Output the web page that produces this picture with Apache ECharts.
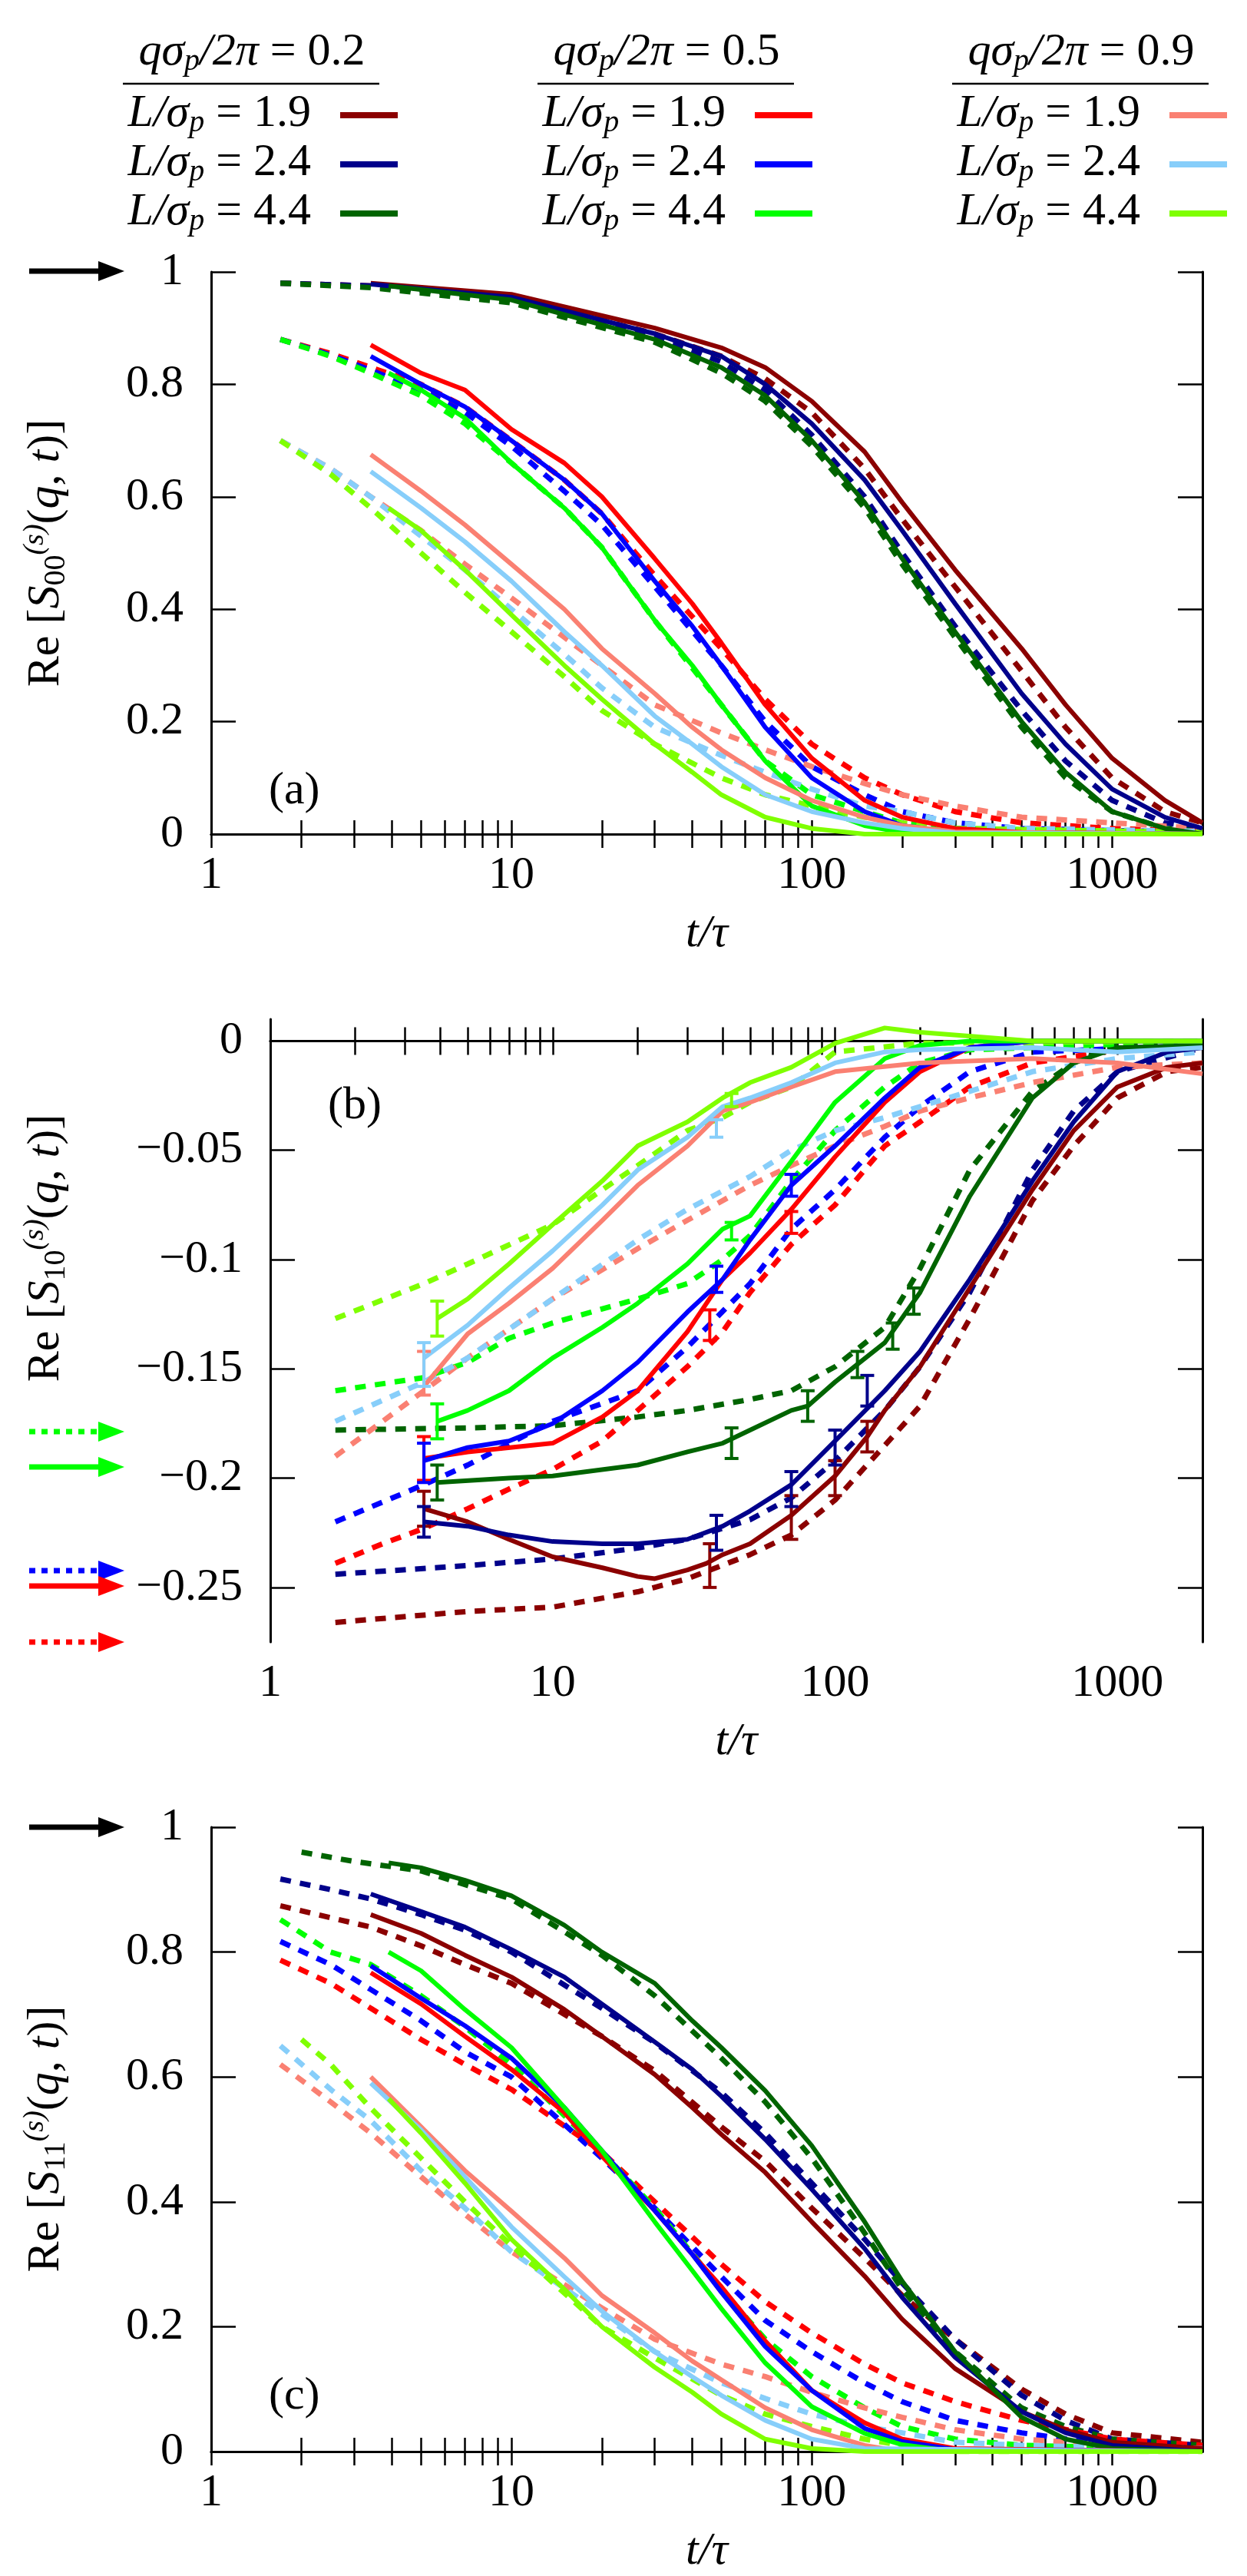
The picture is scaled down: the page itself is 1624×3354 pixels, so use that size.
<!DOCTYPE html>
<html><head><meta charset="utf-8">
<script src="https://cdn.jsdelivr.net/npm/echarts@6/dist/echarts.min.js"></script>
<style>html,body{margin:0;padding:0;background:#fff}#c{width:1624px;height:3354px}</style>
</head><body><div id="c"></div>
<script>
// ---- data: [t/tau, value] ----
const COLORS = ['#8b0000','#00008b','#006400','#ff0000','#0000ff','#00ff00','#fa8072','#87cefa','#7fff00'];
const Q_LABELS = ['0.2','0.5','0.9'];
const L_LABELS = ['1.9','2.4','4.4'];
const X_TICKS = [1,10,100,1000];
const Y_TICKS_A = [0,0.2,0.4,0.6,0.8,1];
const Y_TICKS_B = [-0.25,-0.2,-0.15,-0.1,-0.05,0];

// Panel (a) solid
const A_S0=[[3.4,0.98],[10,0.96],[30,0.9],[50,0.865],[70,0.83],[100,0.77],[150,0.68],[200,0.59],[300,0.47],[500,0.33],[700,0.23],[1000,0.135],[1500,0.06],[2000,0.02]];
const A_S1=[[3.4,0.978],[10,0.955],[30,0.89],[50,0.85],[70,0.8],[100,0.73],[150,0.63],[200,0.54],[300,0.41],[500,0.25],[700,0.16],[1000,0.08],[1500,0.03],[2000,0.01]];
const A_S2=[[3.9,0.975],[10,0.95],[30,0.88],[50,0.83],[70,0.78],[100,0.7],[150,0.59],[200,0.49],[300,0.36],[500,0.2],[700,0.11],[1000,0.04],[1500,0.01],[2000,0]];
const A_S3=[[3.4,0.87],[5,0.82],[7,0.79],[10,0.72],[15,0.66],[20,0.6],[30,0.49],[40,0.41],[50,0.34],[70,0.23],[100,0.135],[150,0.06],[200,0.03],[300,0.01],[500,0.003],[2000,0]];
const A_S4=[[3.4,0.85],[5,0.8],[7,0.76],[10,0.7],[15,0.63],[20,0.57],[30,0.45],[40,0.37],[50,0.3],[70,0.19],[100,0.1],[150,0.04],[200,0.015],[300,0.003],[2000,0]];
const A_S5=[[3.9,0.82],[5,0.79],[7,0.74],[10,0.66],[15,0.58],[20,0.51],[30,0.38],[40,0.3],[50,0.23],[70,0.13],[100,0.05],[150,0.015],[200,0.003],[2000,0]];
const A_S6=[[3.4,0.675],[5,0.61],[7,0.55],[10,0.48],[15,0.4],[20,0.33],[30,0.25],[40,0.19],[50,0.15],[70,0.1],[100,0.06],[150,0.03],[200,0.015],[300,0.004],[2000,0]];
const A_S7=[[3.4,0.645],[5,0.58],[7,0.52],[10,0.45],[15,0.36],[20,0.3],[30,0.21],[40,0.16],[50,0.12],[70,0.07],[100,0.04],[150,0.02],[200,0.01],[300,0.002],[2000,0]];
const A_S8=[[3.9,0.58],[5,0.54],[7,0.47],[10,0.39],[15,0.3],[20,0.24],[30,0.16],[40,0.11],[50,0.07],[70,0.03],[100,0.01],[150,0],[2000,0]];
// Panel (a) dashed
const A_D0=[[1.7,0.98],[3.4,0.975],[10,0.955],[30,0.89],[50,0.85],[70,0.81],[100,0.75],[150,0.65],[200,0.56],[300,0.44],[500,0.29],[700,0.19],[1000,0.1],[1500,0.04],[2000,0.02]];
const A_D1=[[1.7,0.98],[3.4,0.975],[10,0.952],[30,0.885],[50,0.84],[70,0.79],[100,0.71],[150,0.6],[200,0.5],[300,0.37],[500,0.22],[700,0.13],[1000,0.06],[1500,0.02],[2000,0.01]];
const A_D2=[[1.7,0.98],[3.4,0.972],[10,0.945],[30,0.875],[50,0.82],[70,0.77],[100,0.69],[150,0.58],[200,0.48],[300,0.35],[500,0.19],[700,0.1],[1000,0.04],[1500,0.01],[2000,0.005]];
const A_D3=[[1.7,0.88],[2.5,0.855],[3.4,0.83],[5,0.8],[7,0.76],[10,0.7],[15,0.63],[20,0.57],[30,0.46],[50,0.33],[70,0.24],[100,0.16],[150,0.1],[200,0.07],[300,0.04],[500,0.02],[1000,0.01],[2000,0.005]];
const A_D4=[[1.7,0.88],[2.5,0.852],[3.4,0.825],[5,0.79],[7,0.75],[10,0.69],[15,0.61],[20,0.55],[30,0.44],[50,0.3],[70,0.2],[100,0.12],[150,0.07],[200,0.04],[300,0.02],[500,0.01],[2000,0.003]];
const A_D5=[[1.7,0.88],[2.5,0.85],[3.4,0.82],[5,0.78],[7,0.73],[10,0.66],[15,0.58],[20,0.51],[30,0.38],[50,0.23],[70,0.13],[100,0.07],[150,0.04],[200,0.02],[300,0.01],[2000,0.002]];
const A_D6=[[1.7,0.7],[2.5,0.65],[3.4,0.6],[5,0.54],[7,0.48],[10,0.42],[15,0.35],[20,0.3],[30,0.23],[50,0.18],[70,0.15],[100,0.12],[150,0.09],[200,0.07],[300,0.05],[500,0.03],[1000,0.02],[2000,0.01]];
const A_D7=[[1.7,0.7],[2.5,0.65],[3.4,0.6],[5,0.53],[7,0.47],[10,0.4],[15,0.32],[20,0.26],[30,0.19],[50,0.14],[70,0.11],[100,0.08],[150,0.05],[200,0.04],[300,0.02],[500,0.01],[2000,0.005]];
const A_D8=[[1.7,0.7],[2.5,0.64],[3.4,0.58],[5,0.5],[7,0.43],[10,0.36],[15,0.28],[20,0.22],[30,0.16],[50,0.1],[70,0.07],[100,0.05],[150,0.03],[200,0.02],[300,0.01],[2000,0.003]];

// Panel (b) solid
const B_S0=[[3.5,-0.214],[5,-0.22],[7,-0.228],[10,-0.236],[15,-0.241],[20,-0.245],[23,-0.246],[30,-0.242],[35,-0.239],[40,-0.235],[50,-0.23],[70,-0.217],[100,-0.199],[130,-0.181],[150,-0.169],[200,-0.149],[300,-0.113],[500,-0.068],[700,-0.041],[1000,-0.021],[1500,-0.012],[2000,-0.01]];
const B_S1=[[3.5,-0.22],[5,-0.222],[7,-0.226],[10,-0.229],[15,-0.23],[20,-0.23],[30,-0.228],[40,-0.222],[50,-0.215],[70,-0.203],[100,-0.183],[150,-0.16],[200,-0.142],[300,-0.109],[500,-0.064],[700,-0.037],[1000,-0.014],[1500,-0.005],[2000,-0.003]];
const B_S2=[[3.9,-0.202],[7,-0.2],[10,-0.199],[20,-0.194],[30,-0.188],[40,-0.184],[50,-0.178],[70,-0.169],[80,-0.167],[100,-0.156],[150,-0.138],[200,-0.115],[300,-0.071],[500,-0.026],[700,-0.01],[1000,-0.003],[2000,-0.002]];
const B_S3=[[3.5,-0.191],[5,-0.188],[10,-0.184],[15,-0.172],[20,-0.16],[30,-0.133],[40,-0.109],[50,-0.097],[70,-0.077],[100,-0.053],[150,-0.028],[200,-0.014],[300,-0.003],[500,0],[2000,0]];
const B_S4=[[3.5,-0.192],[5,-0.186],[7,-0.183],[10,-0.175],[15,-0.16],[20,-0.147],[30,-0.124],[40,-0.109],[50,-0.091],[70,-0.066],[100,-0.048],[150,-0.026],[200,-0.012],[300,-0.003],[500,0],[2000,0]];
const B_S5=[[3.9,-0.174],[5,-0.169],[7,-0.16],[10,-0.145],[15,-0.131],[20,-0.12],[30,-0.102],[40,-0.086],[50,-0.08],[70,-0.055],[100,-0.028],[150,-0.008],[200,-0.002],[300,0],[2000,0]];
const B_S6=[[3.5,-0.158],[5,-0.134],[7,-0.12],[10,-0.104],[15,-0.082],[20,-0.066],[30,-0.048],[40,-0.032],[50,-0.028],[70,-0.021],[100,-0.014],[200,-0.01],[500,-0.008],[1000,-0.01],[2000,-0.015]];
const B_S7=[[3.5,-0.145],[5,-0.13],[7,-0.113],[10,-0.096],[15,-0.075],[20,-0.059],[30,-0.044],[40,-0.03],[50,-0.026],[70,-0.019],[100,-0.01],[150,-0.005],[200,-0.004],[500,-0.003],[1000,-0.005],[2000,-0.003]];
const B_S8=[[3.9,-0.127],[5,-0.118],[7,-0.102],[10,-0.084],[15,-0.064],[20,-0.048],[30,-0.037],[40,-0.026],[50,-0.019],[70,-0.012],[100,-0.001],[150,0.006],[200,0.004],[500,0],[2000,0]];
// Panel (b) dashed
const B_D0=[[1.7,-0.266],[5,-0.261],[10,-0.259],[20,-0.252],[30,-0.246],[50,-0.235],[70,-0.226],[100,-0.21],[150,-0.185],[200,-0.167],[300,-0.127],[500,-0.073],[700,-0.048],[1000,-0.026],[1500,-0.014],[2000,-0.012]];
const B_D1=[[1.7,-0.244],[5,-0.24],[10,-0.237],[20,-0.232],[30,-0.228],[50,-0.219],[70,-0.209],[100,-0.192],[150,-0.169],[200,-0.149],[300,-0.115],[500,-0.059],[700,-0.032],[1000,-0.014],[2000,-0.003]];
const B_D2=[[1.7,-0.178],[5,-0.177],[10,-0.176],[20,-0.172],[30,-0.169],[50,-0.164],[70,-0.16],[100,-0.149],[150,-0.131],[200,-0.104],[300,-0.059],[500,-0.023],[700,-0.01],[1000,-0.002],[2000,0]];
const B_D3=[[1.7,-0.239],[2.5,-0.23],[3.5,-0.223],[5,-0.214],[7,-0.205],[10,-0.196],[15,-0.183],[20,-0.169],[30,-0.149],[40,-0.133],[50,-0.115],[70,-0.093],[100,-0.075],[150,-0.048],[200,-0.037],[300,-0.021],[500,-0.01],[1000,-0.004],[2000,-0.002]];
const B_D4=[[1.7,-0.22],[3.5,-0.203],[5,-0.194],[10,-0.174],[20,-0.16],[30,-0.14],[50,-0.111],[70,-0.086],[100,-0.068],[150,-0.044],[200,-0.03],[300,-0.014],[500,-0.005],[2000,-0.002]];
const B_D5=[[1.7,-0.16],[3.5,-0.154],[5,-0.147],[7,-0.136],[10,-0.129],[20,-0.118],[30,-0.111],[40,-0.1],[50,-0.089],[70,-0.064],[100,-0.041],[150,-0.021],[200,-0.01],[300,-0.004],[2000,0]];
const B_D6=[[1.7,-0.19],[3.5,-0.16],[5,-0.145],[10,-0.118],[20,-0.095],[30,-0.082],[50,-0.066],[70,-0.057],[100,-0.048],[150,-0.039],[200,-0.032],[300,-0.026],[500,-0.019],[1000,-0.012],[2000,-0.01]];
const B_D7=[[1.7,-0.174],[3.5,-0.156],[5,-0.145],[10,-0.118],[20,-0.091],[30,-0.077],[50,-0.062],[70,-0.05],[100,-0.041],[150,-0.035],[200,-0.03],[300,-0.023],[500,-0.014],[1000,-0.008],[2000,-0.005]];
const B_D8=[[1.7,-0.127],[3.5,-0.111],[5,-0.102],[10,-0.084],[15,-0.068],[20,-0.057],[30,-0.041],[40,-0.035],[50,-0.028],[70,-0.021],[100,-0.005],[200,-0.001],[2000,0]];
// Panel (b) error bars [t, low, high] for the solid curves
const B_E0=[[3.5,-0.222,-0.206],[36,-0.25,-0.23],[70,-0.228,-0.208],[100,-0.208,-0.192],[130,-0.188,-0.174]];
const B_E1=[[3.5,-0.227,-0.213],[38,-0.233,-0.217],[70,-0.213,-0.197],[100,-0.194,-0.178],[130,-0.167,-0.153]];
const B_E2=[[3.9,-0.21,-0.194],[43,-0.191,-0.177],[80,-0.174,-0.16],[120,-0.154,-0.142],[160,-0.141,-0.129],[190,-0.125,-0.113]];
const B_E3=[[3.5,-0.201,-0.181],[36,-0.137,-0.123],[70,-0.088,-0.078]];
const B_E4=[[3.5,-0.202,-0.184],[38,-0.115,-0.103],[70,-0.071,-0.061]];
const B_E5=[[3.9,-0.182,-0.166],[43,-0.091,-0.083]];
const B_E6=[[3.5,-0.162,-0.142]];
const B_E7=[[3.5,-0.158,-0.138],[38,-0.044,-0.036]];
const B_E8=[[3.9,-0.135,-0.119],[43,-0.03,-0.024]];

// Panel (c) solid
const C_S0=[[3.4,0.86],[5,0.83],[7,0.795],[10,0.76],[15,0.708],[20,0.665],[30,0.604],[40,0.551],[50,0.508],[70,0.447],[100,0.368],[150,0.281],[200,0.212],[300,0.133],[500,0.064],[700,0.035],[1000,0.015],[2000,0.005]];
const C_S1=[[3.4,0.893],[5,0.865],[7,0.84],[10,0.804],[15,0.76],[20,0.717],[30,0.656],[40,0.612],[50,0.569],[70,0.5],[100,0.42],[150,0.325],[200,0.247],[300,0.151],[500,0.064],[700,0.03],[1000,0.01],[2000,0]];
const C_S2=[[3.9,0.943],[5,0.935],[7,0.915],[10,0.89],[15,0.843],[20,0.8],[30,0.75],[40,0.69],[50,0.647],[70,0.578],[100,0.49],[150,0.368],[200,0.273],[300,0.16],[500,0.055],[700,0.02],[1000,0.005],[2000,0]];
const C_S3=[[3.4,0.767],[5,0.717],[7,0.665],[10,0.612],[15,0.543],[20,0.473],[30,0.386],[40,0.316],[50,0.264],[70,0.177],[100,0.098],[150,0.046],[200,0.02],[300,0.005],[2000,0]];
const C_S4=[[3.4,0.778],[5,0.726],[7,0.682],[10,0.63],[15,0.551],[20,0.482],[30,0.386],[40,0.316],[50,0.255],[70,0.168],[100,0.098],[150,0.037],[200,0.016],[300,0.003],[2000,0]];
const C_S5=[[3.9,0.8],[5,0.77],[7,0.708],[10,0.647],[15,0.551],[20,0.482],[30,0.368],[40,0.29],[50,0.229],[70,0.142],[100,0.072],[150,0.029],[200,0.011],[300,0],[2000,0]];
const C_S6=[[3.4,0.6],[5,0.52],[7,0.45],[10,0.385],[15,0.31],[20,0.25],[30,0.19],[40,0.145],[50,0.115],[70,0.07],[100,0.035],[150,0.01],[200,0],[2000,0]];
const C_S7=[[3.4,0.59],[5,0.515],[7,0.44],[10,0.36],[15,0.28],[20,0.225],[30,0.16],[40,0.12],[50,0.09],[70,0.05],[100,0.02],[150,0.005],[2000,0]];
const C_S8=[[3.9,0.565],[5,0.51],[7,0.43],[10,0.34],[15,0.26],[20,0.2],[30,0.135],[40,0.095],[50,0.06],[70,0.02],[100,0.005],[150,0],[2000,0]];
// Panel (c) dashed
const C_D0=[[1.7,0.874],[2.5,0.855],[3.4,0.84],[5,0.81],[7,0.78],[10,0.75],[20,0.665],[30,0.61],[50,0.52],[70,0.465],[100,0.39],[150,0.31],[200,0.25],[300,0.18],[500,0.1],[700,0.06],[1000,0.03],[2000,0.015]];
const C_D1=[[1.7,0.917],[2.5,0.9],[3.4,0.885],[5,0.86],[7,0.835],[10,0.8],[20,0.71],[30,0.655],[50,0.575],[70,0.51],[100,0.43],[150,0.34],[200,0.27],[300,0.18],[500,0.09],[700,0.05],[1000,0.02],[2000,0.01]];
const C_D2=[[2,0.96],[3,0.945],[5,0.93],[10,0.885],[20,0.795],[30,0.73],[50,0.63],[70,0.56],[100,0.47],[150,0.35],[200,0.26],[300,0.16],[500,0.07],[700,0.04],[1000,0.02],[2000,0.01]];
const C_D3=[[1.7,0.787],[2.5,0.75],[3.4,0.71],[5,0.66],[7,0.62],[10,0.58],[20,0.48],[30,0.4],[50,0.3],[70,0.24],[100,0.19],[150,0.14],[200,0.11],[300,0.08],[500,0.05],[1000,0.02],[2000,0.01]];
const C_D4=[[1.7,0.817],[2.5,0.78],[3.4,0.74],[5,0.69],[7,0.64],[10,0.6],[20,0.47],[30,0.39],[50,0.28],[70,0.21],[100,0.16],[150,0.11],[200,0.08],[300,0.05],[500,0.03],[1000,0.01],[2000,0.005]];
const C_D5=[[1.7,0.852],[2.5,0.8],[3.4,0.78],[5,0.73],[7,0.68],[10,0.62],[20,0.48],[30,0.39],[50,0.26],[70,0.18],[100,0.12],[150,0.07],[200,0.04],[300,0.02],[500,0.01],[2000,0.003]];
const C_D6=[[1.7,0.62],[2.5,0.56],[3.4,0.51],[5,0.44],[7,0.38],[10,0.32],[20,0.23],[30,0.18],[50,0.14],[70,0.12],[100,0.095],[150,0.07],[200,0.055],[300,0.035],[500,0.02],[1000,0.01],[2000,0.005]];
const C_D7=[[1.7,0.65],[2.5,0.58],[3.4,0.53],[5,0.45],[7,0.39],[10,0.32],[20,0.22],[30,0.16],[50,0.11],[70,0.085],[100,0.06],[150,0.04],[200,0.03],[300,0.015],[500,0.01],[2000,0.003]];
const C_D8=[[2,0.66],[2.5,0.62],[3.4,0.55],[5,0.47],[7,0.4],[10,0.33],[20,0.2],[30,0.15],[50,0.09],[70,0.06],[100,0.04],[150,0.02],[200,0.01],[300,0],[2000,0]];

const A_SOLID=[A_S0,A_S1,A_S2,A_S3,A_S4,A_S5,A_S6,A_S7,A_S8];
const A_DASH=[A_D0,A_D1,A_D2,A_D3,A_D4,A_D5,A_D6,A_D7,A_D8];
const B_SOLID=[B_S0,B_S1,B_S2,B_S3,B_S4,B_S5,B_S6,B_S7,B_S8];
const B_DASH=[B_D0,B_D1,B_D2,B_D3,B_D4,B_D5,B_D6,B_D7,B_D8];
const B_ERR=[B_E0,B_E1,B_E2,B_E3,B_E4,B_E5,B_E6,B_E7,B_E8];
const C_SOLID=[C_S0,C_S1,C_S2,C_S3,C_S4,C_S5,C_S6,C_S7,C_S8];
const C_DASH=[C_D0,C_D1,C_D2,C_D3,C_D4,C_D5,C_D6,C_D7,C_D8];

// ---- layout ----
const FONT='Liberation Serif';
const FS=60;
const panels=[
 {left:275,top:354,h:732,ymin:0,ymax:1,yt:Y_TICKS_A,solid:A_SOLID,dash:A_DASH,sub:'00',lab:'(a)',labY:1000,titleY:720},
 {left:352,top:1327,h:811,ymin:-0.275,ymax:0.01,yt:Y_TICKS_B,solid:B_SOLID,dash:B_DASH,err:B_ERR,sub:'10',lab:'(b)',labY:1410,titleY:1625},
 {left:275,top:2379,h:813,ymin:0,ymax:1,yt:Y_TICKS_A,solid:C_SOLID,dash:C_DASH,sub:'11',lab:'(c)',labY:3090,titleY:2785}
];
const MINOR=[];
[1,10,100,1000].forEach(d=>{for(let k=2;k<=9;k++){if(d*k<2000)MINOR.push(d*k);}});
const ALL_X=X_TICKS.concat(MINOR);

const grid=[],xAxis=[],yAxis=[],series=[],graphic=[];
const axLine={show:true,lineStyle:{color:'#000',width:3}};
panels.forEach((p,i)=>{
  grid.push({left:p.left,right:58,top:p.top,height:p.h});
  const gx=i*2;
  xAxis.push({type:'log',logBase:10,min:1,max:2000,gridIndex:i,position:'bottom',axisLine:axLine,splitLine:{show:false},
    axisTick:{inside:true,length:18,customValues:ALL_X,lineStyle:{width:2.5,color:'#000'}},
    axisLabel:{customValues:X_TICKS,fontFamily:FONT,fontSize:FS,color:'#000',margin:24,formatter:v=>String(Math.round(v))},
    name:'t/τ',nameLocation:'middle',nameGap:100,nameTextStyle:{fontFamily:FONT,fontSize:FS,fontStyle:'italic',color:'#000'}});
  xAxis.push({type:'log',logBase:10,min:1,max:2000,gridIndex:i,position:'top',axisLine:axLine,splitLine:{show:false},
    axisTick:{inside:true,length:18,customValues:ALL_X,lineStyle:{width:2.5,color:'#000'}},axisLabel:{show:false}});
  const gy=i*2;
  yAxis.push({type:'value',min:p.ymin,max:p.ymax,gridIndex:i,position:'left',axisLine:axLine,splitLine:{show:false},
    axisTick:{inside:true,length:32,customValues:p.yt,lineStyle:{width:2.5,color:'#000'}},
    axisLabel:{customValues:p.yt,fontFamily:FONT,fontSize:FS,color:'#000',margin:36,formatter:v=>String(+v.toFixed(3)).replace('-','−')}});
  yAxis.push({type:'value',min:p.ymin,max:p.ymax,gridIndex:i,position:'right',axisLine:axLine,splitLine:{show:false},
    axisTick:{inside:true,length:32,customValues:p.yt,lineStyle:{width:2.5,color:'#000'}},axisLabel:{show:false}});
  p.dash.forEach((d,k)=>series.push({type:'line',xAxisIndex:gx,yAxisIndex:gy,data:d,showSymbol:false,silent:true,
    lineStyle:{color:COLORS[k],width:7,type:[14,12]},z:2}));
  p.solid.forEach((d,k)=>series.push({type:'line',xAxisIndex:gx,yAxisIndex:gy,data:d,showSymbol:false,silent:true,
    lineStyle:{color:COLORS[k],width:6},z:3}));
  if(p.err){p.err.forEach((d,k)=>series.push({type:'custom',xAxisIndex:gx,yAxisIndex:gy,data:d,silent:true,z:4,
    renderItem:(params,api)=>{const a=api.coord([api.value(0),api.value(1)]),b=api.coord([api.value(0),api.value(2)]);
      const st={stroke:COLORS[k],lineWidth:4};
      return {type:'group',children:[
        {type:'line',shape:{x1:a[0],y1:a[1],x2:b[0],y2:b[1]},style:st},
        {type:'line',shape:{x1:a[0]-9,y1:a[1],x2:a[0]+9,y2:a[1]},style:st},
        {type:'line',shape:{x1:b[0]-9,y1:b[1],x2:b[0]+9,y2:b[1]},style:st}]};}}));}
  graphic.push({type:'text',x:60,y:p.titleY,rotation:Math.PI/2,style:{
    text:'Re [{i|S}{s|'+p.sub+'}{p|(s)}({i|q}, {i|t})]',
    rich:{i:{fontStyle:'italic',fontFamily:FONT,fontSize:FS},s:{fontFamily:FONT,fontSize:40,verticalAlign:'bottom',padding:[26,0,0,0]},p:{fontFamily:FONT,fontSize:38,fontStyle:'italic',verticalAlign:'top',padding:[0,0,28,0]}},
    fontFamily:FONT,fontSize:FS,fill:'#000',align:'center',verticalAlign:'middle'}});
  graphic.push({type:'text',x:p.left+75,y:p.labY,style:{text:p.lab,fontFamily:FONT,fontSize:FS,fill:'#000'}});
});

// legend (drawn as graphic)
const colX=[0,540,1080];
Q_LABELS.forEach((q,c)=>{
  const x0=colX[c];
  graphic.push({type:'text',x:x0+328,y:68,style:{text:'{i|qσ}{s|p}{i|/2π} = '+q,rich:{i:{fontStyle:'italic',fontFamily:FONT,fontSize:FS},s:{fontStyle:'italic',fontFamily:FONT,fontSize:40,padding:[24,0,0,0]}},fontFamily:FONT,fontSize:FS,fill:'#000',align:'center',verticalAlign:'middle'}});
  graphic.push({type:'line',shape:{x1:x0+160,y1:109,x2:x0+494,y2:109},style:{stroke:'#000',lineWidth:2.5}});
  L_LABELS.forEach((l,r)=>{
    const y=148+r*64;
    graphic.push({type:'text',x:x0+405,y:y,style:{text:'{i|L/σ}{s|p} = '+l,rich:{i:{fontStyle:'italic',fontFamily:FONT,fontSize:FS},s:{fontStyle:'italic',fontFamily:FONT,fontSize:40,padding:[24,0,0,0]}},fontFamily:FONT,fontSize:FS,fill:'#000',align:'right',verticalAlign:'middle'}});
    graphic.push({type:'line',shape:{x1:x0+443,y1:y+2,x2:x0+518,y2:y+2},style:{stroke:COLORS[c*3+r],lineWidth:8}});
  });
});
// arrows
function arrow(y,color,dash){
  graphic.push({type:'line',shape:{x1:38,y1:y,x2:140,y2:y},style:{stroke:color,lineWidth:7,lineDash:dash||null}});
  graphic.push({type:'polygon',shape:{points:[[128,y-13],[162,y],[128,y+13]]},style:{fill:color}});
}
arrow(353,'#000');arrow(2379,'#000');
arrow(1864,'#00ff00',[8,8]);arrow(1910,'#00ff00');
arrow(2045,'#0000ff',[8,8]);arrow(2065,'#ff0000');arrow(2138,'#ff0000',[8,8]);

const chart=echarts.init(document.getElementById('c'),null,{renderer:'canvas'});
chart.setOption({animation:false,backgroundColor:'#fff',grid,xAxis,yAxis,series,graphic});
</script></body></html>
